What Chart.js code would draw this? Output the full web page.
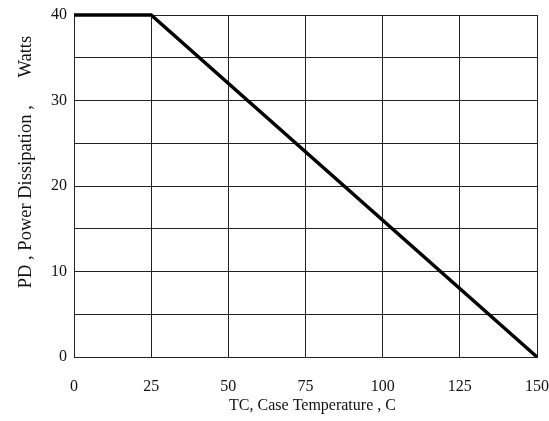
<!DOCTYPE html>
<html>
<head>
<meta charset="utf-8">
<script src="https://cdn.jsdelivr.net/npm/chart.js@4"></script>
<style>
  html, body { margin: 0; padding: 0; background: #fff; }
  #wrap { width: 549px; height: 421px; }
</style>
</head>
<body>
<div id="wrap"><canvas id="derating" width="549" height="421"></canvas></div>
<script>
// Derating curve values
const caseTemps = [0, 25, 150];
const powerWatts = [40, 40, 0];
const xTicks = [0, 25, 50, 75, 100, 125, 150];
const yLabels = [0, 10, 20, 30, 40];

const xTitle = "TC, Case Temperature , C";
const yTitle = "PD , Power Dissipation ,      Watts";

const serif = "'Liberation Serif', 'DejaVu Serif', serif";

const points = caseTemps.map(function (t, i) {
  return { x: t, y: powerWatts[i] };
});

// axis captions sit a bit off-centre in the original, so draw them by hand
const captions = {
  id: "captions",
  afterDraw: function (chart) {
    const ctx = chart.ctx;
    const area = chart.chartArea;
    ctx.save();
    ctx.fillStyle = "#111";
    ctx.textAlign = "center";
    ctx.textBaseline = "middle";

    ctx.font = "16px " + serif;
    ctx.fillText(xTitle, area.left + (area.right - area.left) / 2 + 7, 406);

    ctx.font = "18.5px " + serif;
    ctx.translate(26, area.top + (area.bottom - area.top) / 2 - 24);
    ctx.rotate(-Math.PI / 2);
    ctx.fillText(yTitle, 0, 0);
    ctx.restore();
  }
};

new Chart(document.getElementById("derating").getContext("2d"), {
  type: "line",
  data: {
    datasets: [{
      data: points,
      borderColor: "#000",
      borderWidth: 3.5,
      pointRadius: 0,
      tension: 0,
      clip: false
    }]
  },
  plugins: [captions],
  options: {
    responsive: false,
    animation: false,
    layout: { padding: { left: 0, top: 15, right: 0, bottom: 0 } },
    plugins: { legend: { display: false }, tooltip: { enabled: false } },
    scales: {
      x: {
        type: "linear",
        min: 0,
        max: 150,
        afterBuildTicks: function (scale) {
          scale.ticks = xTicks.map(function (v) { return { value: v }; });
        },
        afterFit: function (scale) {
          scale.height = 64;
          scale.paddingLeft = 0;
          scale.paddingRight = 12;
        },
        grid: { color: "#222", lineWidth: 1, drawTicks: false },
        border: { color: "#222", width: 1 },
        ticks: { padding: 20, color: "#111", font: { family: serif, size: 16 } }
      },
      y: {
        min: 0,
        max: 40,
        ticks: {
          stepSize: 5,
          padding: 7,
          color: "#111",
          font: { family: serif, size: 16 },
          callback: function (v) { return yLabels.includes(v) ? String(v) : ""; }
        },
        afterFit: function (scale) {
          scale.width = 74;
          scale.paddingTop = 0;
          scale.paddingBottom = 0;
        },
        grid: { color: "#222", lineWidth: 1, drawTicks: false },
        border: { color: "#222", width: 1 }
      }
    }
  }
});
</script>
</body>
</html>
